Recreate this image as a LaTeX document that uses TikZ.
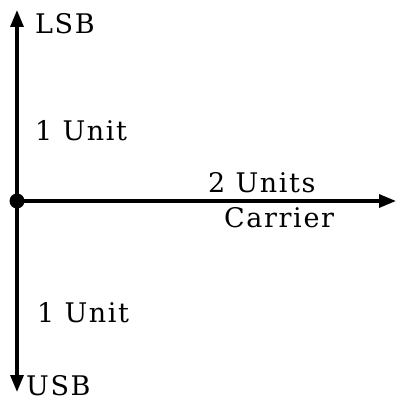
\documentclass[tikz,border=0pt]{standalone}
\usepackage{fontspec}
\setmainfont{DejaVu Serif}[LetterSpace=6]
\usetikzlibrary{arrows.meta}
\begin{document}
\begin{tikzpicture}[x=1pt,y=-1pt,
  axis/.style={line width=3.2pt,-{Triangle[length=17pt,width=13pt]}},
  lbl/.style={font=\fontsize{27}{30}\selectfont,inner sep=0pt,anchor=base west}]
\useasboundingbox (0,0) rectangle (396,401);
\coordinate (o) at (17,201);
\coordinate (top) at (17,10);
\coordinate (bot) at (17,392);
\coordinate (right) at (396,201);
\draw[axis] (o) -- (top);
\draw[axis] (o) -- (bot);
\draw[axis] (o) -- (right);
\fill (o) circle (7.5);
\node[lbl] (lsb) at (35,34) {LSB};
\node[lbl] (u1) at (35,140) {1 Unit};
\node[lbl] (u2) at (208,192) {2 Units};
\node[lbl] (car) at (224,227) {Carrier};
\node[lbl] (u3) at (37,322) {1 Unit};
\node[lbl] (usb) at (26,395) {USB};
\end{tikzpicture}
\end{document}
